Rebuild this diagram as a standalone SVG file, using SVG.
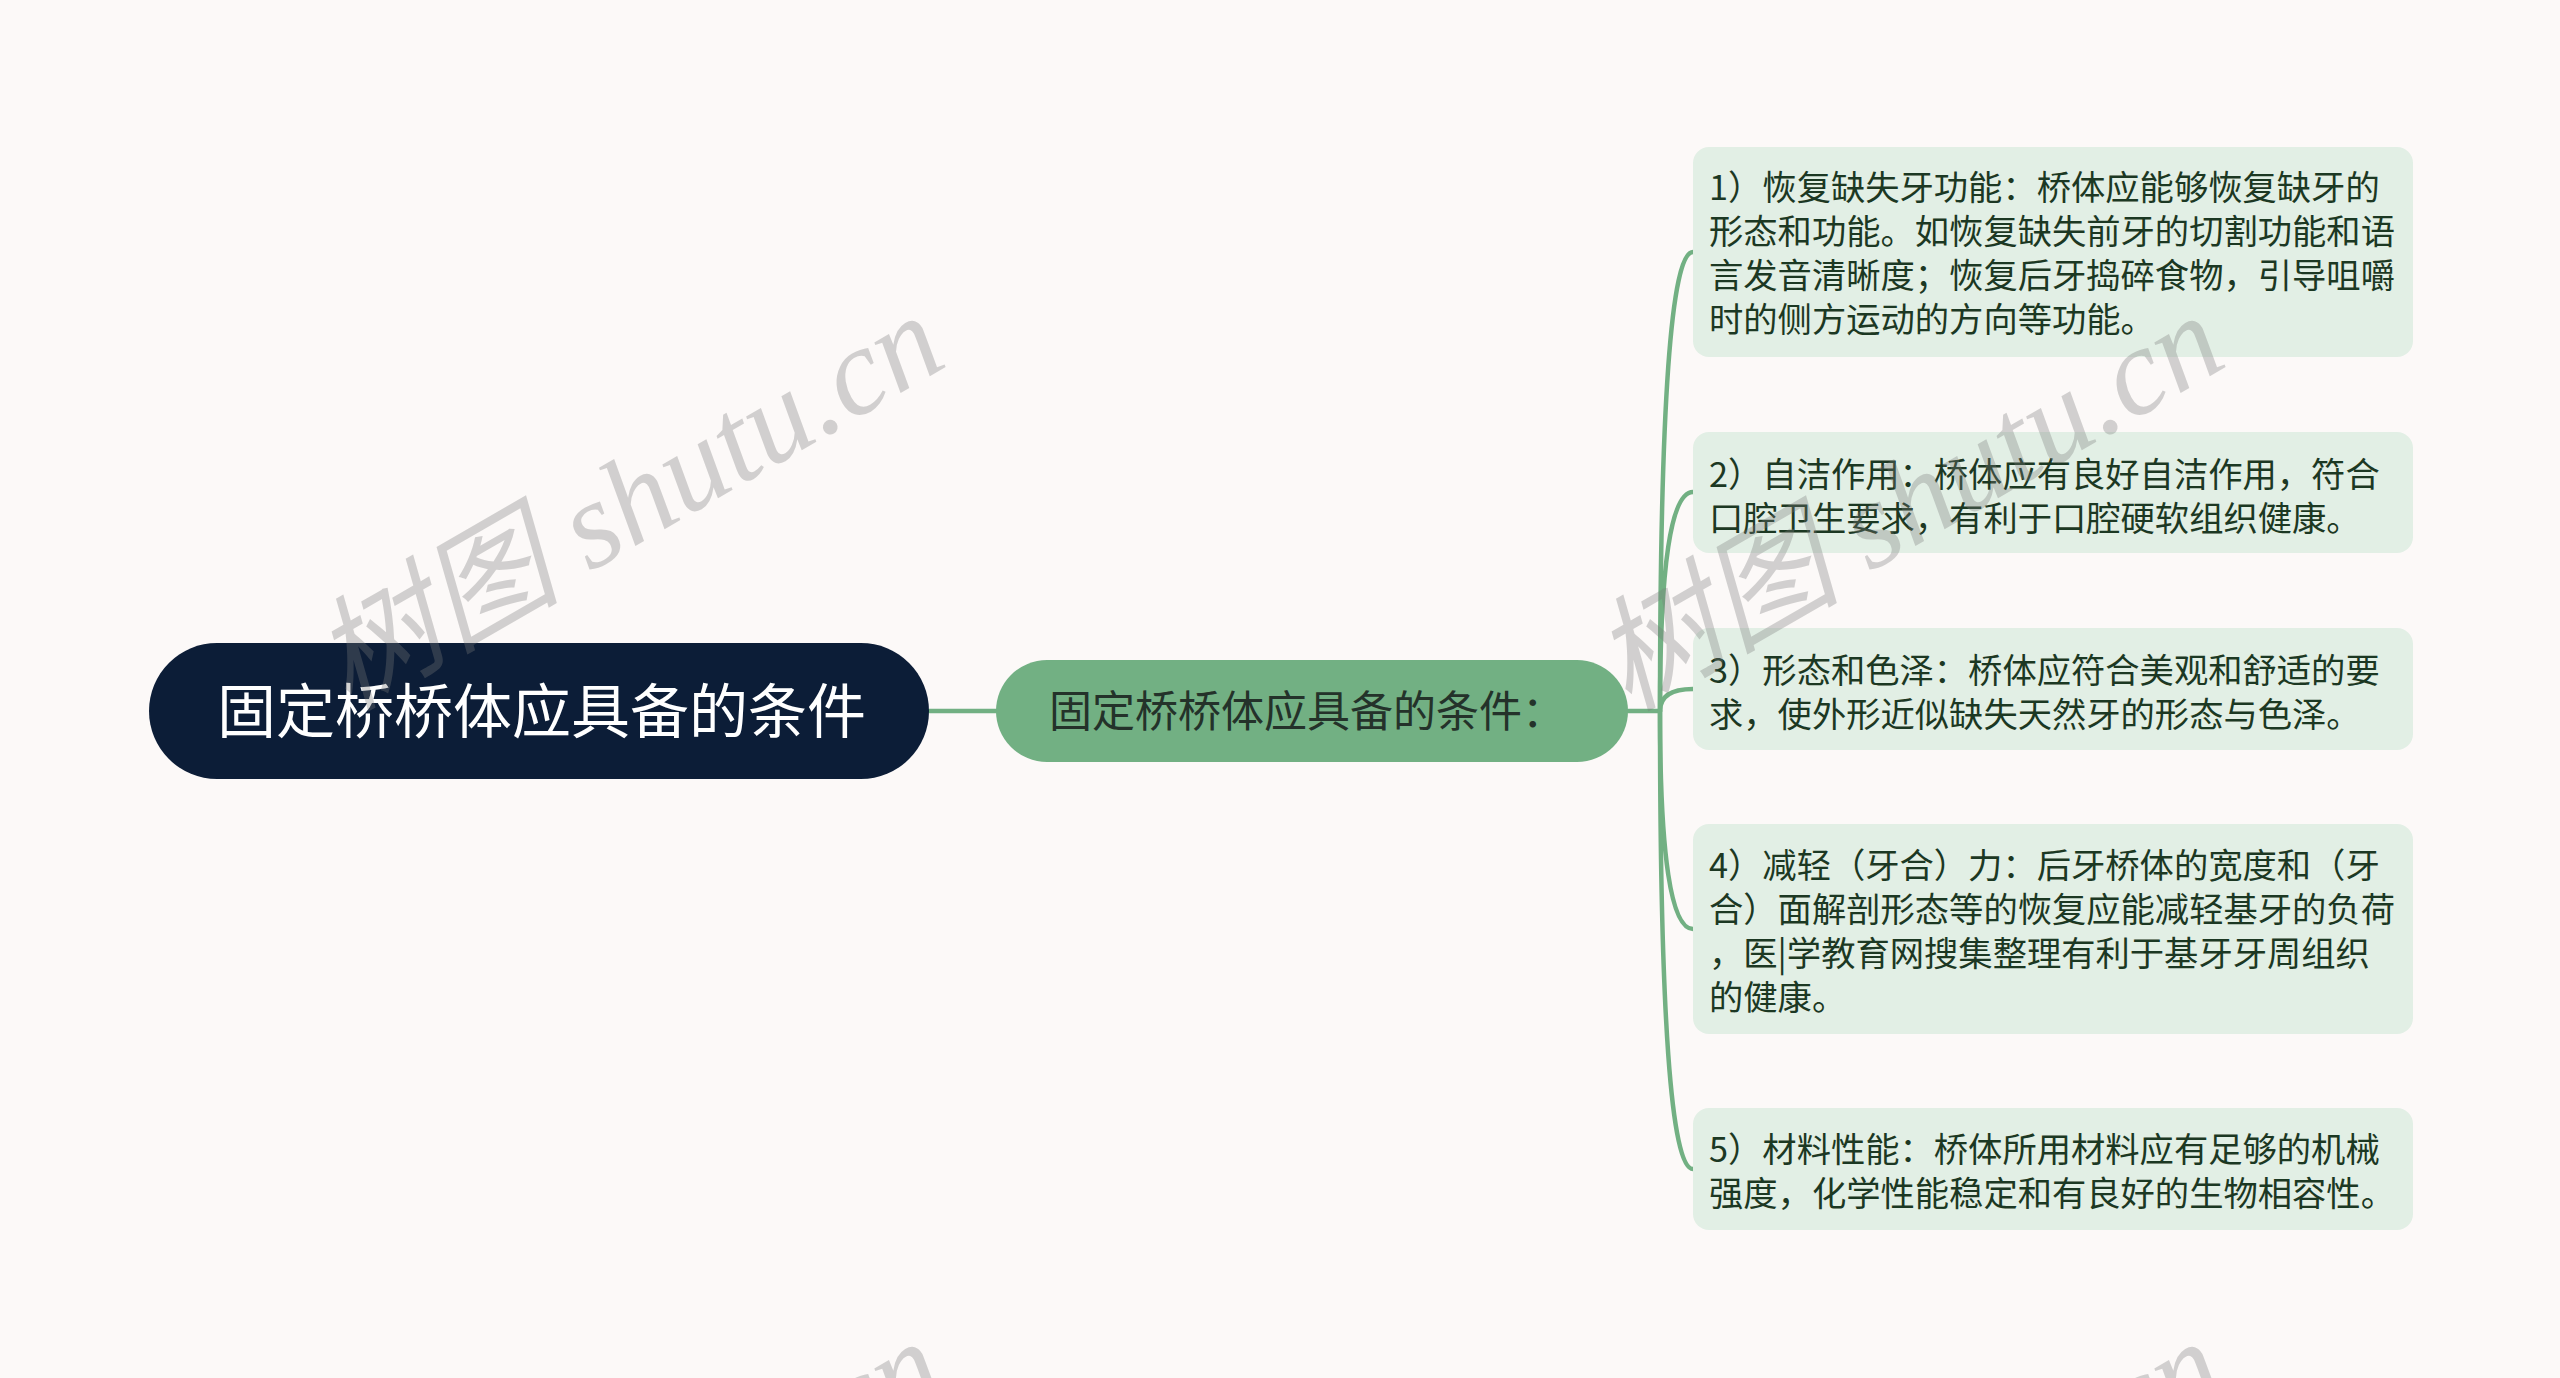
<svg xmlns="http://www.w3.org/2000/svg" width="2560" height="1378" viewBox="0 0 2560 1378">
<style>
.bg{fill:#fcf9f8}
.conn{fill:none;stroke:#72b083;stroke-width:4.5;stroke-linecap:round}
.root{fill:#0c1d37}
.mid{fill:#72b083}
.leaf{fill:#e2efe5}
.rt{font-family:"Noto Sans CJK SC","Noto Sans",sans-serif;font-size:59px;fill:#ffffff}
.mt{font-family:"Noto Sans CJK SC","Noto Sans",sans-serif;font-size:43px;fill:#24322a}
.lt{font-family:"Noto Sans CJK SC","Noto Sans",sans-serif;font-size:34.3px;fill:#1c3823}
.wm{font-family:"Liberation Serif","Noto Sans CJK SC",serif;font-style:italic;font-size:124px;fill:#7a7a7a;opacity:0.32}
</style>
<rect class="bg" x="0" y="0" width="2560" height="1378"/>
<g id="connectors">
<line class="conn" x1="929" y1="711" x2="996" y2="711"/>
<line class="conn" x1="1628" y1="711" x2="1660" y2="711"/>
<path class="conn" d="M1660 711 Q1660 252 1693 252"/>
<path class="conn" d="M1660 711 Q1660 492 1693 492"/>
<path class="conn" d="M1660 711 Q1660 689 1693 689"/>
<path class="conn" d="M1660 711 Q1660 929 1693 929"/>
<path class="conn" d="M1660 711 Q1660 1169 1693 1169"/>
</g>
<g id="root">
<rect class="root" x="149" y="643" width="780" height="136" rx="68"/>
<text class="rt" x="217" y="733">固定桥桥体应具备的条件</text>
</g>
<g id="mid">
<rect class="mid" x="996" y="660" width="632" height="102" rx="51"/>
<text class="mt" x="1049" y="727">固定桥桥体应具备的条件：</text>
</g>
<g id="leaf1">
<rect class="leaf" x="1693" y="147" width="720" height="210" rx="16"/>
<text class="lt"><tspan x="1709" y="200">1）恢复缺失牙功能：桥体应能够恢复缺牙的</tspan><tspan x="1709" y="244">形态和功能。如恢复缺失前牙的切割功能和语</tspan><tspan x="1709" y="288">言发音清晰度；恢复后牙捣碎食物，引导咀嚼</tspan><tspan x="1709" y="332">时的侧方运动的方向等功能。</tspan></text>
</g>
<g id="leaf2">
<rect class="leaf" x="1693" y="432" width="720" height="121" rx="16"/>
<text class="lt"><tspan x="1709" y="487">2）自洁作用：桥体应有良好自洁作用，符合</tspan><tspan x="1709" y="531">口腔卫生要求，有利于口腔硬软组织健康。</tspan></text>
</g>
<g id="leaf3">
<rect class="leaf" x="1693" y="628" width="720" height="122" rx="16"/>
<text class="lt"><tspan x="1709" y="683">3）形态和色泽：桥体应符合美观和舒适的要</tspan><tspan x="1709" y="727">求，使外形近似缺失天然牙的形态与色泽。</tspan></text>
</g>
<g id="leaf4">
<rect class="leaf" x="1693" y="824" width="720" height="210" rx="16"/>
<text class="lt"><tspan x="1709" y="878">4）减轻（牙合）力：后牙桥体的宽度和（牙</tspan><tspan x="1709" y="922">合）面解剖形态等的恢复应能减轻基牙的负荷</tspan><tspan x="1709" y="966">，医|学教育网搜集整理有利于基牙牙周组织</tspan><tspan x="1709" y="1010">的健康。</tspan></text>
</g>
<g id="leaf5">
<rect class="leaf" x="1693" y="1108" width="720" height="122" rx="16"/>
<text class="lt"><tspan x="1709" y="1162">5）材料性能：桥体所用材料应有足够的机械</tspan><tspan x="1709" y="1206">强度，化学性能稳定和有良好的生物相容性。</tspan></text>
</g>
<g id="watermarks">
<text class="wm" transform="translate(348 712) rotate(-30)">树图 shutu.cn</text>
<text class="wm" transform="translate(1628 712) rotate(-30)">树图 shutu.cn</text>
<text class="wm" transform="translate(348 1738) rotate(-30)">树图 shutu.cn</text>
<text class="wm" transform="translate(1628 1738) rotate(-30)">树图 shutu.cn</text>
</g>
</svg>
